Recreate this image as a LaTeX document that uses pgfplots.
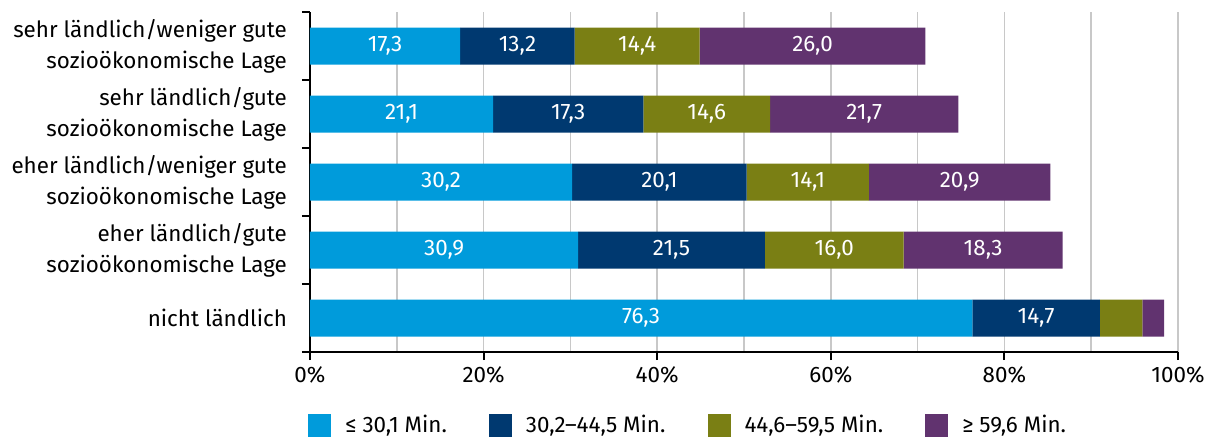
\documentclass[border=0pt]{standalone}
\usepackage{pgfplots}
\pgfplotsset{compat=1.18}
\usepackage{fontspec}
\setmainfont{Fira Sans}
\definecolor{c1}{RGB}{0,155,219}
\definecolor{c2}{RGB}{0,57,112}
\definecolor{c3}{RGB}{122,127,20}
\definecolor{c4}{RGB}{97,51,111}
\definecolor{gridgray}{RGB}{200,200,200}
\newcommand\fsz{\fontsize{11.2}{15.5}\selectfont}
\begin{document}
\begin{tikzpicture}
\useasboundingbox (-155pt,-45.5pt) rectangle (450.5pt,176pt);
\begin{axis}[
  at={(0,0)}, anchor=south west,
  scale only axis, width=434pt, height=170pt,
  xbar stacked, bar width=18.5pt,
  xmin=0, xmax=100, ymin=-0.5, ymax=4.5, y dir=reverse,
  axis x line*=bottom, axis y line*=left,
  axis line style={line width=1pt, black},
  /pgf/number format/assume math mode=true,
  tick align=outside,
  major tick length=4pt, minor tick length=4pt,
  tick style={line width=1pt, black},
  xtick={0,20,...,100}, minor xtick={10,30,...,90},
  xticklabel={\pgfmathprintnumber[fixed,precision=0]{\tick}\%},
  xmajorgrids, xminorgrids,
  major x grid style={gridgray, line width=0.8pt},
  minor x grid style={gridgray, line width=0.8pt},
  minor x tick style={draw=none},
  ytick={0,1,2,3,4},
  minor ytick={-0.5,0.5,1.5,2.5,3.5,4.5},
  major y tick style={draw=none},
  yticklabels={{sehr ländlich/weniger gute\\sozioökonomische Lage},{sehr ländlich/gute\\sozioökonomische Lage},{eher ländlich/weniger gute\\sozioökonomische Lage},{eher ländlich/gute\\sozioökonomische Lage},{nicht ländlich}},
  yticklabel style={align=right, font=\fsz, xshift=-4pt},
  xticklabel style={font=\fsz},
  visualization depends on=rawx \as \rawx,
  nodes near coords={\ifdim\rawx pt<6pt\relax\else\pgfmathprintnumber[fixed,fixed zerofill,precision=1,use comma]{\rawx}\fi},
  every node near coord/.append style={anchor=center, text=white, font=\fsz},
  every axis plot/.append style={draw=none, legend image code/.code={\fill[##1] (0pt,-5.75pt) rectangle (11.5pt,5.75pt);}},
  legend columns=4,
  legend style={at={(0,0)}, anchor=west, xshift=-1pt, yshift=-36.75pt, draw=none, fill=none, inner sep=0pt,
    font=\fsz,
    /tikz/every odd column/.append style={column sep=5pt},
    /tikz/every even column/.append style={column sep=19pt}},
]
\addplot+[fill=c1] coordinates {(17.3,0) (21.1,1) (30.2,2) (30.9,3) (76.3,4)};
\addplot+[fill=c2] coordinates {(13.2,0) (17.3,1) (20.1,2) (21.5,3) (14.7,4)};
\addplot+[fill=c3] coordinates {(14.4,0) (14.6,1) (14.1,2) (16.0,3) (4.9,4)};
\addplot+[fill=c4] coordinates {(26.0,0) (21.7,1) (20.9,2) (18.3,3) (2.5,4)};
\legend{{≤ 30,1 Min.}, {30,2–44,5 Min.}, {44,6–59,5 Min.}, {≥ 59,6 Min.}}
\end{axis}
\end{tikzpicture}
\end{document}
